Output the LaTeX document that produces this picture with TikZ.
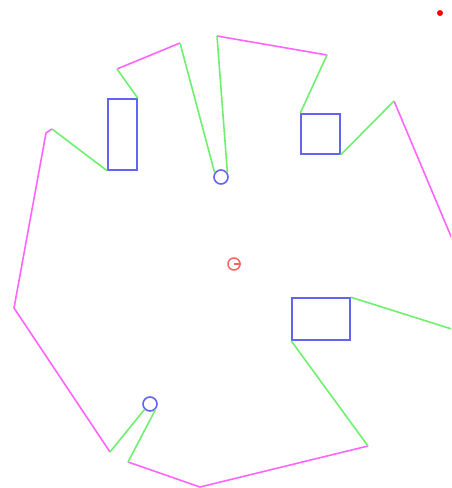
\documentclass[tikz,border=0pt]{standalone}
\definecolor{wallc}{RGB}{255,100,255}
\definecolor{linkc}{RGB}{110,240,110}
\definecolor{boxc}{RGB}{100,100,240}
\definecolor{goalc}{RGB}{255,95,95}
\begin{document}
\begin{tikzpicture}[x=1pt,y=-1pt,
  wall/.style={draw=wallc, line width=1.6pt, line join=round},
  link/.style={draw=linkc, line width=1.6pt, line join=round},
  box/.style={draw=boxc, line width=1.6pt, fill=none, inner sep=0pt, rectangle},
  ring/.style={draw=boxc, line width=1.6pt, circle, inner sep=0pt, minimum size=14pt},
  goal/.style={draw=goalc, line width=1.5pt, circle, inner sep=0pt, minimum size=12pt}]
\useasboundingbox (0,0) rectangle (451,488);
\begin{scope}
\clip (0,0) rectangle (451,488);
% boxes
\node[box, minimum width=29pt, minimum height=71pt] (b1) at (122.5,134.5) {};
\node[box, minimum width=39pt, minimum height=40pt] (b2) at (320.5,134) {};
\node[box, minimum width=58pt, minimum height=42pt] (b3) at (321,319) {};
% rings
\node[ring] (c1) at (221,177) {};
\node[ring] (c2) at (150,404) {};
% goal
\node[goal] (g) at (234,264) {};
\draw[goalc, line width=1.5pt] (g.center) -- (g.east);
\fill[red] (440,13) circle (3pt);
% vertices
\coordinate (p1) at (14,308);
\coordinate (p2) at (46,133);
\coordinate (p3) at (52,129);
\coordinate (p4) at (117,69);
\coordinate (p5) at (180,43);
\coordinate (p6) at (217,36);
\coordinate (p7) at (327,55);
\coordinate (p8) at (394,101);
\coordinate (p9) at (458,253);
\coordinate (p10) at (458,331);
\coordinate (p11) at (368,446);
\coordinate (p12) at (200,487);
\coordinate (p13) at (128,462);
\coordinate (p14) at (110,452);
% walls
\draw[wall] (p14) -- (p1) -- (p2) -- (p3);
\draw[wall] (p4) -- (p5);
\draw[wall] (p6) -- (p7);
\draw[wall] (p8) -- (p9);
\draw[wall] (p11) -- (p12) -- (p13);
% links
\draw[link] (p3) -- (b1.south west);
\draw[link] (b1.north east) -- (p4);
\draw[link] (p5) -- (c1.145);
\draw[link] (c1.35) -- (p6);
\draw[link] (p7) -- (b2.north west);
\draw[link] (b2.south east) -- (p8);
\draw[link] (p10) -- (b3.north east);
\draw[link] (b3.south west) -- (p11);
\draw[link] (p13) -- (c2.-45);
\draw[link] (c2.225) -- (p14);
\end{scope}
\end{tikzpicture}
\end{document}
